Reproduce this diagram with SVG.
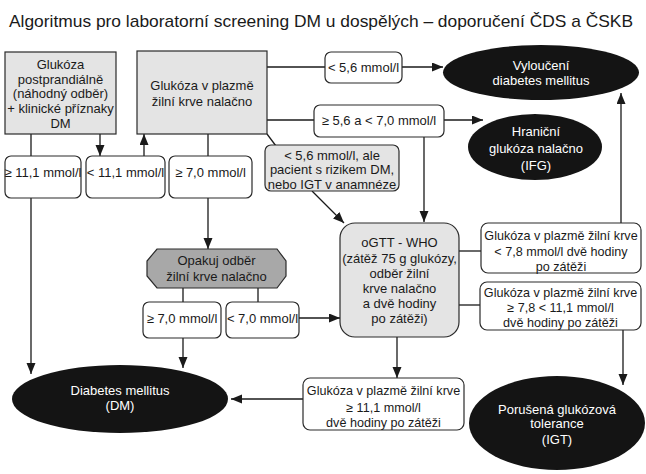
<svg xmlns="http://www.w3.org/2000/svg" width="646" height="474" viewBox="0 0 646 474">
<defs>
<marker id="ah" markerUnits="userSpaceOnUse" markerWidth="12" markerHeight="10" refX="11" refY="4.5" orient="auto"><path d="M0,0 L11,4.5 L0,9 z" fill="#1a1a1a"/></marker>
<style>
text{font-family:"Liberation Sans",Arial,Helvetica,sans-serif;font-size:13px;fill:#1a1a1a;text-anchor:middle}
.w{fill:#ffffff}
.box{fill:#ffffff;stroke:#2a2a2a;stroke-width:1.2}
.gbox{fill:#e4e4e4;stroke:#2a2a2a;stroke-width:1.2}
.dark{fill:#a8a8a8;stroke:#2a2a2a;stroke-width:1.2}
.ell{fill:#141414}
.c line,.c path{stroke:#1a1a1a;stroke-width:1.3;fill:none}
.a{marker-end:url(#ah)}
.sm{font-size:12.6px}
</style>
</defs>
<rect width="646" height="474" fill="#ffffff"/>
<text id="title" x="321" y="27" style="font-size:17px" textLength="624" lengthAdjust="spacingAndGlyphs">Algoritmus pro laboratorní screening DM u dospělých – doporučení ČDS a ČSKB</text>

<g class="c" id="connectors">
<line x1="31" y1="134" x2="31" y2="156"/>
<line class="a" x1="31" y1="198" x2="31" y2="374"/>
<line class="a" x1="100" y1="134" x2="100" y2="156"/>
<line class="a" x1="144" y1="156" x2="144" y2="134"/>
<line x1="208" y1="134" x2="208" y2="156"/>
<line class="a" x1="208" y1="198" x2="208" y2="249"/>
<line x1="183" y1="288" x2="183" y2="302"/>
<line x1="258" y1="288" x2="258" y2="302"/>
<line class="a" x1="183" y1="338" x2="183" y2="368"/>
<line class="a" x1="299" y1="318" x2="340" y2="318"/>
<line x1="267" y1="67" x2="325" y2="67"/>
<line class="a" x1="402" y1="67" x2="443" y2="67"/>
<line x1="267" y1="120" x2="314" y2="120"/>
<line class="a" x1="444" y1="120" x2="483" y2="120"/>
<line x1="267" y1="134" x2="276" y2="146"/>
<line class="a" x1="312" y1="191" x2="344" y2="223"/>
<line class="a" x1="424" y1="137" x2="424" y2="222"/>
<line x1="459" y1="251" x2="481" y2="251"/>
<line x1="459" y1="305" x2="480" y2="305"/>
<line class="a" x1="621" y1="223" x2="621" y2="93"/>
<line class="a" x1="623" y1="330" x2="623" y2="385"/>
<line class="a" x1="397" y1="337" x2="397" y2="378"/>
<line class="a" x1="303" y1="399" x2="231" y2="399"/>
</g>

<g id="n-postprandial">
<rect class="gbox" x="5" y="52" width="111" height="82"/>
<text x="60.5" y="69">Glukóza</text>
<text x="60.5" y="83.5">postprandiálně</text>
<text x="60.5" y="98">(náhodný odběr)</text>
<text x="60.5" y="113">+ klinické příznaky</text>
<text x="60.5" y="127.5">DM</text>
</g>
<g id="n-nalacno">
<rect class="gbox" x="137" y="51" width="130" height="83"/>
<text x="202" y="89.5">Glukóza v plazmě</text>
<text x="202" y="105.5">žilní krve nalačno</text>
</g>
<g id="n-ge111">
<rect class="box" x="5" y="156" width="76" height="42" rx="6"/>
<text x="43" y="176.5">≥ 11,1 mmol/l</text>
</g>
<g id="n-lt111">
<rect class="box" x="86" y="156" width="79" height="42" rx="6"/>
<text x="125.5" y="176.5">&lt; 11,1 mmol/l</text>
</g>
<g id="n-ge70">
<rect class="box" x="169" y="156" width="83" height="42" rx="6"/>
<text x="210.5" y="176.5">≥ 7,0 mmol/l</text>
</g>
<g id="n-lt56">
<rect class="box" x="325" y="52" width="77" height="31" rx="6"/>
<text x="363.5" y="72">&lt; 5,6 mmol/l</text>
</g>
<g id="n-56-70">
<rect class="box" x="314" y="105" width="130" height="32" rx="6"/>
<text x="379" y="124.5">≥ 5,6 a &lt; 7,0 mmol/l</text>
</g>
<g id="n-risk">
<rect class="gbox" x="265" y="145" width="134" height="46" rx="6"/>
<text x="332" y="159.5">&lt; 5,6 mmol/l, ale</text>
<text x="332" y="174">pacient s rizikem DM,</text>
<text x="332" y="188.5">nebo IGT v anamnéze</text>
</g>
<g id="n-opakuj">
<polygon class="dark" points="157,249 277,249 286,261 286,276 277,288 157,288 147,276 147,261"/>
<text x="216.5" y="265">Opakuj odběr</text>
<text x="216.5" y="281">žilní krve nalačno</text>
</g>
<g id="n-ge70b">
<rect class="box" x="143" y="302" width="78" height="36" rx="6"/>
<text x="182" y="323">≥ 7,0 mmol/l</text>
</g>
<g id="n-lt70">
<rect class="box" x="226" y="302" width="73" height="36" rx="6"/>
<text x="262.5" y="323">&lt; 7,0 mmol/l</text>
</g>
<g id="n-ogtt">
<rect class="gbox" x="340" y="223" width="119" height="114" rx="15"/>
<text x="399.5" y="247">oGTT - WHO</text>
<text x="399.5" y="262.5">(zátěž 75 g glukózy,</text>
<text x="399.5" y="277.5">odběr žilní</text>
<text x="399.5" y="292.5">krve nalačno</text>
<text x="399.5" y="307.5">a dvě hodiny</text>
<text x="399.5" y="322.5">po zátěži)</text>
</g>
<g id="n-lt78">
<rect class="box" x="481" y="223" width="160" height="50" rx="7"/>
<text class="sm" x="561" y="239.5">Glukóza v plazmě žilní krve</text>
<text class="sm" x="561" y="256">&lt; 7,8 mmol/l dvě hodiny</text>
<text class="sm" x="561" y="271">po zátěži</text>
</g>
<g id="n-78-111">
<rect class="box" x="480" y="282" width="161" height="48" rx="7"/>
<text class="sm" x="560.5" y="296.5">Glukóza v plazmě žilní krve</text>
<text class="sm" x="560.5" y="311.5">≥ 7,8 &lt; 11,1 mmol/l</text>
<text class="sm" x="560.5" y="327">dvě hodiny po zátěži</text>
</g>
<g id="n-ge111b">
<rect class="box" x="303" y="378" width="161" height="52" rx="7"/>
<text class="sm" x="383.5" y="394.5">Glukóza v plazmě žilní krve</text>
<text class="sm" x="383.5" y="411.5">≥ 11,1 mmol/l</text>
<text class="sm" x="383.5" y="426.5">dvě hodiny po zátěži</text>
</g>
<g id="n-vylouceni">
<ellipse class="ell" cx="541" cy="72.5" rx="98" ry="27.5"/>
<text class="w" x="541" y="69.5">Vyloučení</text>
<text class="w" x="541" y="85">diabetes mellitus</text>
</g>
<g id="n-ifg">
<ellipse class="ell" cx="535" cy="147" rx="67" ry="33"/>
<text class="w" x="536" y="135.5">Hraniční</text>
<text class="w" x="536" y="152.5">glukóza nalačno</text>
<text class="w" x="536" y="169.5">(IFG)</text>
</g>
<g id="n-dm">
<ellipse class="ell" cx="120" cy="399" rx="108" ry="34"/>
<text class="w" x="120" y="394.5">Diabetes mellitus</text>
<text class="w" x="120" y="409.5">(DM)</text>
</g>
<g id="n-igt">
<ellipse class="ell" cx="557" cy="423" rx="88" ry="47"/>
<text class="w" x="557" y="413.5">Porušená glukózová</text>
<text class="w" x="557" y="427.5">tolerance</text>
<text class="w" x="557" y="443.5">(IGT)</text>
</g>
</svg>
